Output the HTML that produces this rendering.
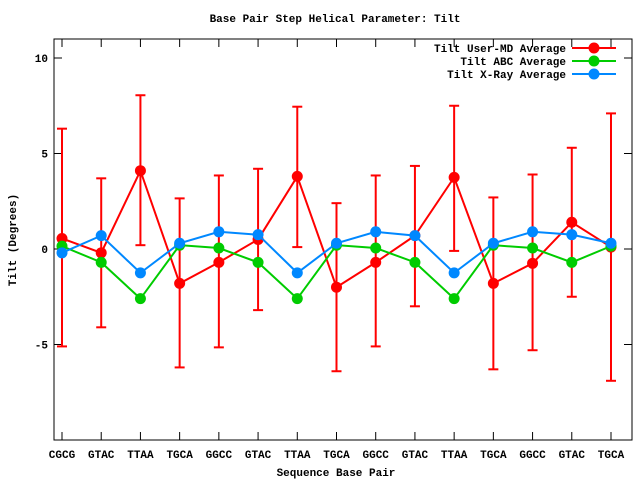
<!DOCTYPE html>
<html><head><meta charset="utf-8"><style>
html,body{margin:0;padding:0;background:#fff;}
svg{display:block;font-family:"Liberation Mono","DejaVu Sans Mono",monospace;font-size:11px;font-weight:bold;}
</style></head><body>
<svg id="s" width="640" height="480" xmlns="http://www.w3.org/2000/svg"></svg>
<script>
var s=document.getElementById('s'),h='';
var L=54,R=632,T=39,B=440;
function Y(v){return 249-v*19.1;}
var xs=[];for(var i=0;i<15;i++)xs.push(62+i*39.214);
var labels=["CGCG","GTAC","TTAA","TGCA","GGCC","GTAC","TTAA","TGCA","GGCC","GTAC","TTAA","TGCA","GGCC","GTAC","TGCA"];
var red=[0.55,-0.2,4.1,-1.8,-0.7,0.5,3.8,-2.0,-0.7,0.7,3.75,-1.8,-0.75,1.4,0.1];
var et=[6.3,3.7,8.05,2.65,3.85,4.2,7.45,2.4,3.85,4.35,7.5,2.7,3.9,5.3,7.1];
var eb=[-5.1,-4.1,0.2,-6.2,-5.15,-3.2,0.1,-6.4,-5.1,-3.0,-0.1,-6.3,-5.3,-2.5,-6.9];
var grn=[0.15,-0.7,-2.6,0.2,0.05,-0.7,-2.6,0.2,0.05,-0.7,-2.6,0.2,0.05,-0.7,0.15];
var blu=[-0.2,0.7,-1.25,0.3,0.9,0.75,-1.25,0.3,0.9,0.7,-1.25,0.3,0.9,0.75,0.3];
h+='<rect x="'+L+'" y="'+T+'" width="'+(R-L)+'" height="'+(B-T)+'" fill="none" stroke="#000"/>';
[10,5,0,-5].forEach(function(v){var y=Y(v);h+='<line x1="'+L+'" x2="'+(L+8)+'" y1="'+y+'" y2="'+y+'" stroke="#000"/><line x1="'+(R-8)+'" x2="'+R+'" y1="'+y+'" y2="'+y+'" stroke="#000"/><text x="'+(L-6)+'" y="'+(y+4)+'" text-anchor="end">'+v+'</text>';});
xs.forEach(function(x,i){h+='<line x1="'+x+'" x2="'+x+'" y1="'+B+'" y2="'+(B-8)+'" stroke="#000"/><line x1="'+x+'" x2="'+x+'" y1="'+T+'" y2="'+(T+8)+'" stroke="#000"/><text x="'+x+'" y="'+(B+18)+'" text-anchor="middle">'+labels[i]+'</text>';});
h+='<text x="335" y="22" text-anchor="middle">Base Pair Step Helical Parameter: Tilt</text>';
h+='<text x="336" y="476" text-anchor="middle">Sequence Base Pair</text>';
h+='<text transform="translate(16,240) rotate(-90)" text-anchor="middle">Tilt (Degrees)</text>';
function series(d,c){var p=d.map(function(v,i){return xs[i]+','+Y(v)}).join(' ');h+='<polyline points="'+p+'" fill="none" stroke="'+c+'" stroke-width="2"/>';d.forEach(function(v,i){h+='<circle cx="'+xs[i]+'" cy="'+Y(v)+'" r="5.5" fill="'+c+'"/>';});}
xs.forEach(function(x,i){h+='<g stroke="#f00" stroke-width="2"><line x1="'+x+'" x2="'+x+'" y1="'+Y(et[i])+'" y2="'+Y(eb[i])+'"/><line x1="'+(x-5)+'" x2="'+(x+5)+'" y1="'+Y(et[i])+'" y2="'+Y(et[i])+'"/><line x1="'+(x-5)+'" x2="'+(x+5)+'" y1="'+Y(eb[i])+'" y2="'+Y(eb[i])+'"/></g>';});
series(red,'#f00');series(grn,'#0c0');series(blu,'#08f');
[["Tilt User-MD Average","#f00",48],["Tilt ABC Average","#0c0",61],["Tilt X-Ray Average","#08f",74]].forEach(function(e){h+='<text x="566" y="'+(e[2]+4)+'" text-anchor="end">'+e[0]+'</text><line x1="572" x2="616" y1="'+e[2]+'" y2="'+e[2]+'" stroke="'+e[1]+'" stroke-width="2"/><circle cx="594" cy="'+e[2]+'" r="5.5" fill="'+e[1]+'"/>';});
s.innerHTML=h;
</script>
</body></html>
